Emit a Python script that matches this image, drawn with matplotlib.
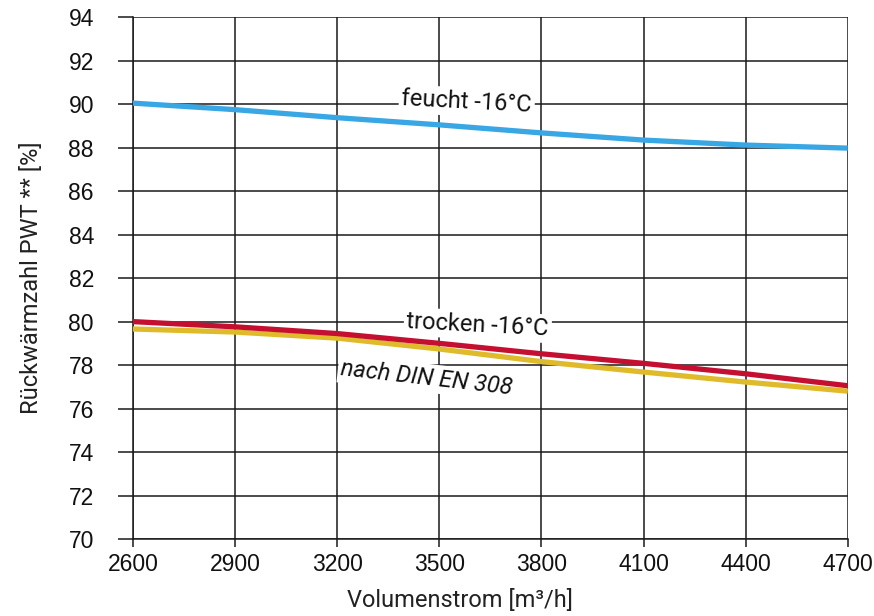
import numpy as np
import matplotlib.pyplot as plt

# Volumenstrom [m3/h]
volumen = [2600, 2900, 3200, 3500, 3800, 4100, 4400, 4700]

# Rueckwaermzahl in %
feucht = [90.05, 89.75, 89.38, 89.05, 88.68, 88.35, 88.12, 87.98]
trocken = [80.0, 79.76, 79.45, 79.0, 78.52, 78.08, 77.6, 77.05]
din_en_308 = [79.66, 79.52, 79.24, 78.74, 78.16, 77.68, 77.22, 76.8]

x_ticks = [2600, 2900, 3200, 3500, 3800, 4100, 4400, 4700]
y_ticks = list(range(70, 95, 2))

blue = '#38a7e4'
red = '#c40f30'
yellow = '#dfbb2b'

fig = plt.figure(figsize=(8.74, 6.16), dpi=100)
ax = fig.add_axes([0.152, 0.125, 0.818, 0.847])

ax.plot(volumen, din_en_308, color=yellow, lw=3.8, zorder=4, solid_capstyle='butt')
ax.plot(volumen, trocken, color=red, lw=3.8, zorder=5, solid_capstyle='butt')
ax.plot(volumen, feucht, color=blue, lw=3.8, zorder=5, solid_capstyle='butt')

ax.set_xlim(2600, 4700)
ax.set_ylim(70, 94)
ax.set_xticks(x_ticks)
ax.set_yticks(y_ticks)

ax.grid(True, color='#1a1a1a', lw=1.1, zorder=1)
for s in ['top', 'right']:
    ax.spines[s].set_visible(False)
for s in ['left', 'bottom']:
    ax.spines[s].set_color('#1a1a1a')
    ax.spines[s].set_linewidth(1.1)

ax.tick_params(axis='y', length=11, width=1.1, color='#1a1a1a', pad=17)
ax.tick_params(axis='x', length=6, width=1.1, color='#1a1a1a', pad=4)
for lbl in ax.get_xticklabels() + ax.get_yticklabels():
    lbl.set_fontfamily('Liberation Sans')
    lbl.set_fontsize(16.5)
    lbl.set_color('#111111')

ax.set_xlabel('Volumenstrom [m³/h]', fontsize=17, family='Roboto', color='#222222')
ax.set_ylabel('Rückwärmzahl PWT ** [%]', fontsize=17, family='Roboto', color='#222222', labelpad=18)
ax.xaxis.set_label_coords(0.457, -0.096)

box = dict(facecolor='white', edgecolor='none', pad=2)
ax.text(3581, 90.1, 'feucht -16°C', fontsize=17, family='Roboto', color='#111111',
        rotation=-3, ha='center', va='center', bbox=box, zorder=3)
ax.text(3613, 79.84, 'trocken -16°C', fontsize=17, family='Roboto', color='#111111',
        rotation=-3, ha='center', va='center', bbox=box, zorder=3)
ax.text(3463, 77.4, 'nach DIN EN 308', fontsize=17, family='Roboto', color='#111111',
        style='italic', rotation=-6.5, ha='center', va='center', bbox=box, zorder=3)

fig.savefig('out.png', dpi=100)
